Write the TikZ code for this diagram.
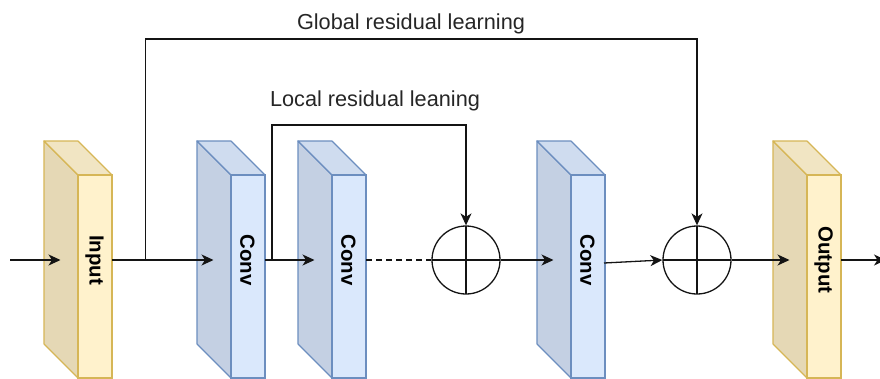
\documentclass[tikz,border=0pt]{standalone}
\usepackage{fontspec}
\setmainfont{Liberation Sans}
\usetikzlibrary{arrows.meta}

% fills and strokes of the two kinds of layer blocks
\definecolor{yfront}{HTML}{FFF2CC}
\definecolor{yside}{RGB}{229,216,181}
\definecolor{ytop}{RGB}{241,229,195}
\definecolor{ystroke}{HTML}{D6B656}
\definecolor{bfront}{HTML}{DAE8FC}
\definecolor{bside}{RGB}{196,208,227}
\definecolor{btop}{RGB}{207,220,239}
\definecolor{bstroke}{HTML}{6C8EBF}
\definecolor{wire}{RGB}{20,20,20}
\definecolor{captext}{RGB}{38,38,38}

% one layer block: #1 name, #2 left x of the side face, #3 colour prefix, #4 label
\newcommand{\layerblock}[4]{%
  \path[draw=#3stroke, fill=#3side, line width=1.2pt, line join=round]
    (#2,141) -- (#2+34,175) -- (#2+34,378) -- (#2,344) -- cycle;
  \path[draw=#3stroke, fill=#3top, line width=1.2pt, line join=round]
    (#2,141) -- (#2+34,141) -- (#2+68,175) -- (#2+34,175) -- cycle;
  \path[draw=#3stroke, fill=#3front, line width=1.2pt]
    (#2+34,175) rectangle (#2+68,378);
  \node[blocklabel] (#1) at (#2+50.5,260) {#4};
  \coordinate (#1-in) at (#2+16.5,260);
  \coordinate (#1-out) at (#2+68,260);
}

\tikzset{
  wireline/.style={draw=wire, line width=1.3pt},
  flow/.style={wireline, -{Stealth[length=12pt, width=11pt, inset=3.5pt]}},
  blocklabel/.style={rotate=-90, font=\fontsize{20.4}{24}\selectfont\bfseries, text=black, inner sep=0pt},
  caption/.style={font=\fontsize{21.7}{26}\selectfont, text=captext, anchor=base, inner sep=0pt},
  adder/.style={circle, draw=wire, fill=white, line width=1.3pt, minimum size=68pt, inner sep=0pt,
    path picture={\draw[wire, line width=1.3pt]
      (path picture bounding box.north) -- (path picture bounding box.south)
      (path picture bounding box.west) -- (path picture bounding box.east);}},
}

\begin{document}
\begin{tikzpicture}[x=1pt, y=-1pt]
  \useasboundingbox (0,0) rectangle (880,378);

  % layer blocks
  \layerblock{inp}{44}{y}{Input}
  \layerblock{convA}{197}{b}{Conv}
  \layerblock{convB}{298}{b}{Conv}
  \layerblock{convC}{537}{b}{Conv}
  \layerblock{outp}{773}{y}{Output}

  % element-wise additions
  \node[adder] (addA) at (466,260) {};
  \node[adder] (addB) at (697,260) {};

  % captions of the skip connections
  \node[caption] (gcap) at (411,29) {Global residual learning};
  \node[caption] (lcap) at (375,106) {Local residual leaning};

  % free ends and branch points
  \coordinate (src) at (10,260);
  \coordinate (sink) at (886,260);
  \coordinate (gsplit) at (145.5,260);
  \coordinate (lsplit) at (272,260);
  \coordinate (gline) at (0,39);
  \coordinate (lline) at (0,125);
  \coordinate (convC-tail) at (604,263);

  % main path
  \draw[flow] (src) -- (inp-in);
  \draw[flow] (inp-out) -- (convA-in);
  \draw[flow] (convA-out) -- (convB-in);
  \draw[wireline, dashed, dash pattern=on 6pt off 4pt] (convB-out) -- (addA.west);
  \draw[flow] (addA.east) -- (convC-in);
  \draw[flow] (convC-tail) -- (addB.west);
  \draw[flow] (addB.east) -- (outp-in);
  \draw[flow] (outp-out) -- (sink);

  % skip connections
  \draw[flow] (gsplit) -- (gsplit |- gline) -| (addB.north);
  \draw[flow] (lsplit) -- (lsplit |- lline) -| (addA.north);
\end{tikzpicture}
\end{document}
